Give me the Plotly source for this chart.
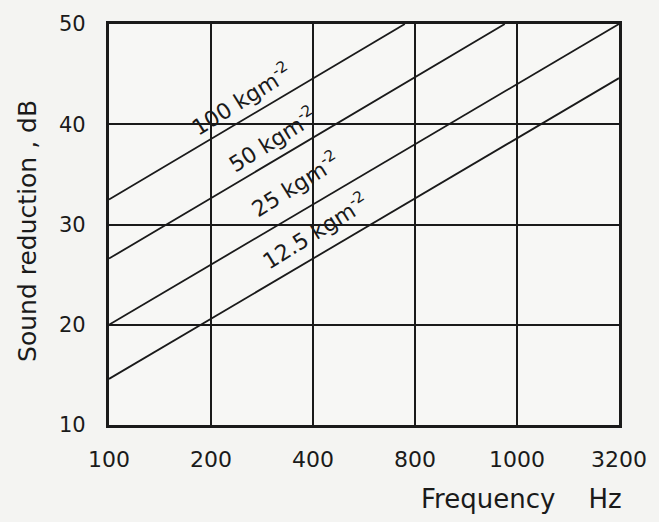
import plotly.graph_objects as go

# Tick labels for the (equally spaced) frequency axis
freq_labels = ["100", "200", "400", "800", "1000", "3200"]
freq_pos = [0, 1, 2, 3, 4, 5]
y_ticks = [10, 20, 30, 40, 50]

# Series: mass per unit area curves (position on frequency axis, sound reduction dB)
series_names = ["100 kgm<sup>-2</sup>", "50 kgm<sup>-2</sup>", "25 kgm<sup>-2</sup>", "12.5 kgm<sup>-2</sup>"]
series_x = [[0, 2.9], [0, 3.88], [0, 5], [0, 5]]
series_y = [[32.5, 50], [26.6, 50], [20, 50], [14.6, 44.6]]

# Label anchor positions (on the frequency axis index / dB scale)
label_x = [1.29, 1.6, 1.82, 2.01]
label_y = [42.5, 38.5, 34.0, 29.4]

FONT = "DejaVu Sans"
INK = "#1a1a1a"

fig = go.Figure()
for xs, ys in zip(series_x, series_y):
    fig.add_trace(go.Scatter(x=xs, y=ys, mode="lines",
                             line=dict(color=INK, width=1.8),
                             showlegend=False, hoverinfo="skip"))

for name, lx, ly in zip(series_names, label_x, label_y):
    fig.add_annotation(x=lx, y=ly, text=name, showarrow=False,
                       textangle=-32, font=dict(family=FONT, size=22, color=INK))

fig.add_annotation(xref="paper", yref="paper", x=1.01, y=-0.185,
                   xanchor="right", yanchor="middle", text="Frequency    Hz",
                   showarrow=False, font=dict(family=FONT, size=26, color=INK))
fig.add_annotation(xref="paper", yref="paper", x=-0.16, y=0.485,
                   xanchor="center", yanchor="middle", text="Sound reduction , dB",
                   textangle=-90, showarrow=False,
                   font=dict(family=FONT, size=25, color=INK))

fig.update_xaxes(range=[0, 5], tickvals=freq_pos, ticktext=freq_labels,
                 showgrid=True, gridcolor=INK, gridwidth=1.8,
                 showline=True, linecolor=INK, linewidth=3.2, mirror=True,
                 ticks="", ticklabelstandoff=12, zeroline=False,
                 tickfont=dict(family=FONT, size=22, color=INK))
fig.update_yaxes(range=[10, 50], tickvals=y_ticks,
                 showgrid=True, gridcolor=INK, gridwidth=1.8,
                 showline=True, linecolor=INK, linewidth=3.2, mirror=True,
                 ticks="", ticklabelstandoff=16, zeroline=False,
                 tickfont=dict(family=FONT, size=21, color=INK))

fig.update_layout(width=659, height=522,
                  margin=dict(l=109, r=39, t=20, b=97),
                  paper_bgcolor="#f4f4f2", plot_bgcolor="#f7f7f5",
                  showlegend=False)

fig.write_html("out.html", config={"displayModeBar": False},
               post_script="document.body.style.margin='0';document.body.style.background='#f4f4f2';")
